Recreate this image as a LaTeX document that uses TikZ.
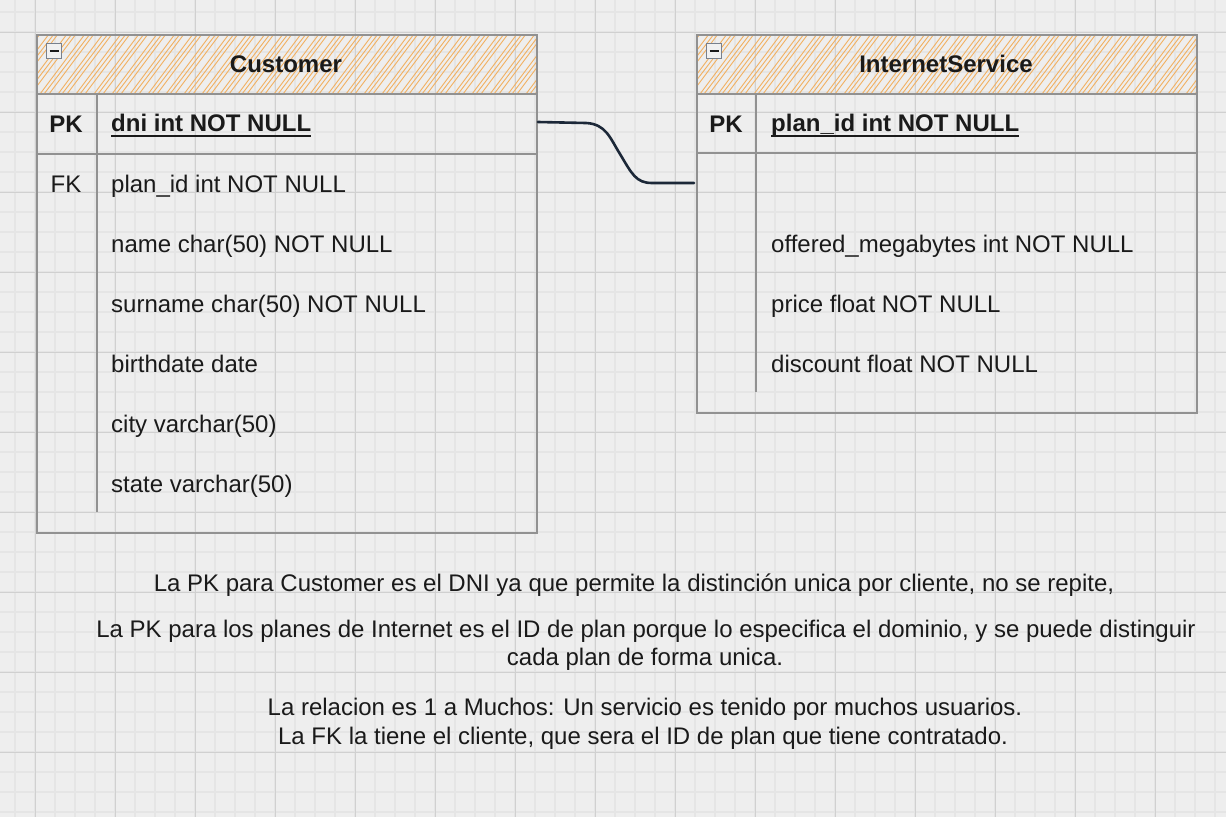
\documentclass[tikz,border=0pt]{standalone}
\usepackage{fontspec}
\setmainfont{Liberation Sans}
\definecolor{bg}{RGB}{238,238,238}
\definecolor{minorc}{RGB}{229,229,229}
\definecolor{majorc}{RGB}{208,208,208}
\definecolor{tline}{RGB}{145,145,145}
\definecolor{hatchc}{RGB}{242,176,96}
\definecolor{txt}{RGB}{26,26,26}
\definecolor{linkc}{RGB}{28,40,56}
\definecolor{iconc}{RGB}{120,128,140}
\begin{document}
\begin{tikzpicture}[x=1pt,y=-1pt,
  minorl/.style={draw=minorc, line width=1.5pt},
  majorl/.style={draw=majorc, line width=1pt},
  tbl/.style={draw=tline, line width=2pt, minimum width=500pt, anchor=north west, inner sep=0pt},
  sepl/.style={draw=tline, line width=1.8pt},
  hatchl/.style={draw=hatchc, line width=0.9pt},
  icon/.style={draw=iconc, fill=bg!85!white, line width=1.5pt, minimum size=15pt, inner sep=0pt},
  cell/.style={anchor=base west, inner sep=0pt, font=\fontsize{24}{28}\selectfont, text=txt},
  cellb/.style={anchor=base west, inner sep=0pt, font=\bfseries\fontsize{24}{28}\selectfont, text=txt},
  keyc/.style={anchor=base, inner sep=0pt, font=\fontsize{24}{28}\selectfont, text=txt},
  keyb/.style={anchor=base, inner sep=0pt, font=\bfseries\fontsize{24}{28}\selectfont, text=txt},
  title/.style={anchor=base, inner sep=0pt, font=\bfseries\fontsize{24}{28}\selectfont, text=txt},
  note/.style={anchor=base, inner sep=0pt, font=\fontsize{24}{28}\selectfont, text=txt},
  link/.style={draw=linkc, line width=2.6pt, line cap=round}
]
\useasboundingbox (0,0) rectangle (1226,817);
\fill[bg] (0,0) rectangle (1226,817);
% grid
\foreach \x in {15,35,...,1225} \draw[minorl] (\x,0) -- (\x,817);
\foreach \y in {12,32,...,816} \draw[minorl] (0,\y) -- (1226,\y);
\foreach \x in {35,115,...,1225} \draw[majorl] (\x,0) -- (\x,817);
\foreach \y in {32,112,...,816} \draw[majorl] (0,\y) -- (1226,\y);

% ---------- Customer table ----------
\begin{scope}
  \clip (36,34) rectangle (536,94);
  \foreach \x in {-50,-41,...,540} \draw[hatchl] (\x,94) -- ++(45,-60);
  \foreach \x in {-46,-28,...,540} \draw[hatchl] (\x,94) -- ++(46,-60);
\end{scope}
\node[tbl, minimum height=498pt] (cust) at (36,34) {};
\draw[sepl] (36,94) -- (536,94);
\draw[sepl] (36,154) -- (536,154);
\draw[sepl] (97,94) -- (97,512);
\node[icon] (cicon) at (54,51) {};
\draw[txt, line width=2pt] ([xshift=-4.5pt]cicon.center) -- ([xshift=4.5pt]cicon.center);
\node[title] (ctitle) at (286,72) {Customer};
\node[keyb] (cpk) at (66,132) {PK};
\node[cellb] (cdni) at (111,131) {dni int NOT NULL};
\draw[txt, line width=2pt] ([yshift=-5pt]cdni.base west) -- ([yshift=-5pt]cdni.base east);
\node[keyc] (cfk) at (66,192) {FK};
\node[cell] (cplan) at (111,192) {plan\_id int NOT NULL};
\node[cell] (cname) at (111,252) {name char(50) NOT NULL};
\node[cell] (csur) at (111,312) {surname char(50) NOT NULL};
\node[cell] (cbirth) at (111,372) {birthdate date};
\node[cell] (ccity) at (111,432) {city varchar(50)};
\node[cell] (cstate) at (111,492) {state varchar(50)};

% ---------- InternetService table ----------
\begin{scope}
  \clip (696,34) rectangle (1196,94);
  \foreach \x in {610,619,...,1200} \draw[hatchl] (\x,94) -- ++(45,-60);
  \foreach \x in {614,632,...,1200} \draw[hatchl] (\x,94) -- ++(46,-60);
\end{scope}
\node[tbl, minimum height=378pt] (inet) at (696,34) {};
\draw[sepl] (696,94) -- (1196,94);
\draw[sepl] (696,153) -- (1196,153);
\draw[sepl] (756,94) -- (756,392);
\node[icon] (iicon) at (714,51) {};
\draw[txt, line width=2pt] ([xshift=-4.5pt]iicon.center) -- ([xshift=4.5pt]iicon.center);
\node[title] (ititle) at (946,72) {InternetService};
\node[keyb] (ipk) at (726,132) {PK};
\node[cellb] (iplan) at (771,131) {plan\_id int NOT NULL};
\draw[txt, line width=2pt] ([yshift=-5pt]iplan.base west) -- ([yshift=-5pt]iplan.base east);
\node[cell] (ioff) at (771,252) {offered\_megabytes int NOT NULL};
\node[cell] (iprice) at (771,312) {price float NOT NULL};
\node[cell] (idisc) at (771,372) {discount float NOT NULL};

% ---------- relation ----------
\coordinate (lkA) at (538,122);
\coordinate (lkB) at (694,183);
\draw[link] (lkA) -- (586,123) .. controls (606,124) and (610,138) .. (620,154)
  .. controls (632,174) and (636,183) .. (652,183) -- (lkB);

% ---------- notes ----------
\node[note] (n1) at (634,591) {La PK para Customer es el DNI ya que permite la distinción unica por cliente, no se repite,};
\node[note] (n2) at (646,637) {La PK para los planes de Internet es el ID de plan porque lo especifica el dominio, y se puede distinguir};
\node[note] (n3) at (645,665) {cada plan de forma unica.};
\node[note] (n4) at (645,715) {La relacion es 1 a Muchos: Un servicio es tenido por muchos usuarios.};
\node[note] (n5) at (643,744) {La FK la tiene el cliente, que sera el ID de plan que tiene contratado.};
\end{tikzpicture}
\end{document}
